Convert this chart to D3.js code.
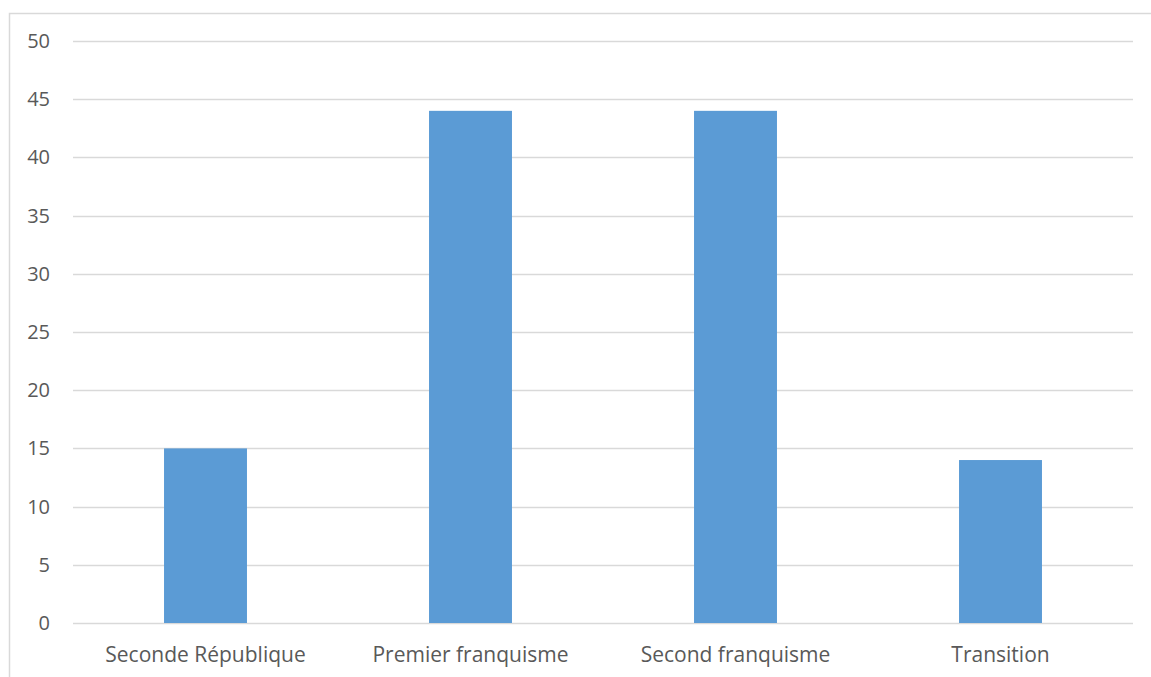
<!DOCTYPE html>
<html><head><meta charset="utf-8">
<script src="https://cdn.jsdelivr.net/npm/d3@7"></script>
<style>body{margin:0;background:#fff;} svg{display:block;}</style>
</head><body>
<svg id="chart" width="1151" height="677"></svg>
<script>
const categories = ["Seconde République", "Premier franquisme", "Second franquisme", "Transition"];
const values = [15, 44, 44, 14];
const yTicks = [0, 5, 10, 15, 20, 25, 30, 35, 40, 45, 50];

(function () {
const svg = d3.select("#chart");
const W = 1151, H = 677;
const mLeft = 73, mRight = 1133, mTop = 41, mBottom = 623;
const font = "'Open Sans', 'Liberation Sans', sans-serif";

// chart border
svg.append("rect").attr("x", 9.5).attr("y", 13.5).attr("width", W + 10).attr("height", H + 10)
  .attr("fill", "none").attr("stroke", "#d9d9d9").attr("stroke-width", 1.5);

const x = d3.scaleBand().domain(categories).range([mLeft, mRight]).paddingInner(0).paddingOuter(0);
const y = d3.scaleLinear().domain([0, 50]).range([mBottom, mTop]);

const g = svg.append("g");
g.selectAll("line.grid").data(yTicks).join("line").attr("class", "grid")
  .attr("x1", mLeft).attr("x2", mRight)
  .attr("y1", d => Math.round(y(d)) + 0.5).attr("y2", d => Math.round(y(d)) + 0.5)
  .attr("stroke", "#d9d9d9").attr("stroke-width", 1.5);

const barW = x.bandwidth() * 0.313;
g.selectAll("rect.bar").data(values).join("rect").attr("class", "bar")
  .attr("x", (d, i) => x(categories[i]) + (x.bandwidth() - barW) / 2)
  .attr("width", barW)
  .attr("y", d => y(d))
  .attr("height", d => y(0) - y(d))
  .attr("fill", "#5b9bd5");

g.selectAll("text.ytick").data(yTicks).join("text").attr("class", "ytick")
  .attr("x", 50).attr("y", d => y(d)).attr("dy", "0.35em")
  .attr("text-anchor", "end").attr("font-family", font).attr("font-size", 20)
  .attr("fill", "#595959").text(d => d);

g.selectAll("text.xtick").data(categories).join("text").attr("class", "xtick")
  .attr("x", d => x(d) + x.bandwidth() / 2).attr("y", 655).attr("dy", "0.35em")
  .attr("text-anchor", "middle").attr("font-family", font).attr("font-size", 21)
  .attr("fill", "#595959").text(d => d);
})();
</script>
</body></html>
